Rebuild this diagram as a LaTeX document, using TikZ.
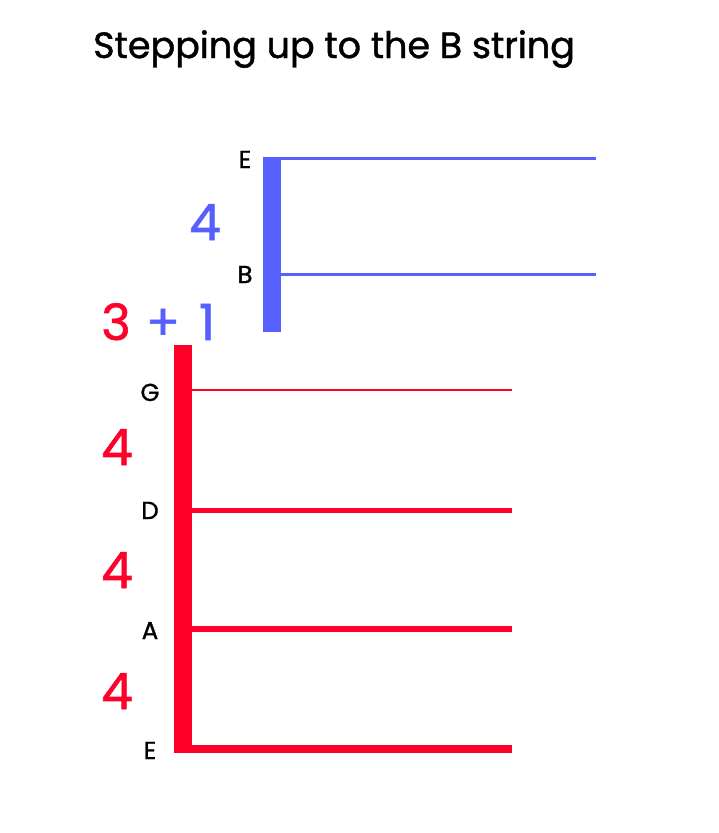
\documentclass[tikz,border=0pt]{standalone}
\usepackage{fontspec}
\setmainfont{Poppins}
\newfontfamily\medfont{Poppins}[FakeBold=1.2]
\definecolor{sblue}{RGB}{85,96,255}
\definecolor{sred}{RGB}{255,0,43}
\begin{document}
\begin{tikzpicture}[x=1pt,y=-1pt,
  lbl/.style={inner sep=0pt,anchor=base,font=\medfont\fontsize{24.5}{24.5}\selectfont},
  big/.style={inner sep=0pt,anchor=base,font=\medfont\fontsize{50}{50}\selectfont},
  ttl/.style={inner sep=0pt,anchor=base west,font=\medfont\fontsize{36.5}{36.5}\selectfont}]
\useasboundingbox[fill=white] (0,0) rectangle (718,833);
\node[ttl] (title) at (93,58) {Stepping up to the B string};
% blue group
\fill[sblue] (263,157) rectangle (281,332);
\coordinate (bE0) at (281,158);
\coordinate (bE1) at (596,158);
\coordinate (bB0) at (281,274);
\coordinate (bB1) at (596,274);
\draw[sblue,line width=3pt] (bE0) -- (bE1);
\draw[sblue,line width=3pt] (bB0) -- (bB1);
\node[lbl] (lE1) at (245,168) {E};
\node[lbl] (lB) at (245,283) {B};
\node[big,text=sblue] (n4b) at (205,240) {4};
% 3 + 1
\node[big,text=sred] (n3) at (116,340) {3};
\node[big,text=sblue] (nplus) at (163,340) {+};
\node[big,text=sblue] (n1) at (207,340) {1};
% red group
\fill[sred] (174,345) rectangle (192,753);
\coordinate (rG0) at (192,390);
\coordinate (rG1) at (512,390);
\coordinate (rD0) at (192,510);
\coordinate (rD1) at (512,510);
\coordinate (rA0) at (192,629);
\coordinate (rA1) at (512,629);
\coordinate (rE0) at (192,749);
\coordinate (rE1) at (512,749);
\draw[sred,line width=2.5pt] (rG0) -- (rG1);
\draw[sred,line width=5pt] (rD0) -- (rD1);
\draw[sred,line width=6pt] (rA0) -- (rA1);
\draw[sred,line width=8pt] (rE0) -- (rE1);
\node[lbl] (lG) at (150,401) {G};
\node[lbl] (lD) at (150,519) {D};
\node[lbl] (lA) at (150,639) {A};
\node[lbl] (lE2) at (150,759) {E};
\node[big,text=sred] (r4a) at (117,465) {4};
\node[big,text=sred] (r4b) at (117,588) {4};
\node[big,text=sred] (r4c) at (117,709) {4};
\end{tikzpicture}
\end{document}
